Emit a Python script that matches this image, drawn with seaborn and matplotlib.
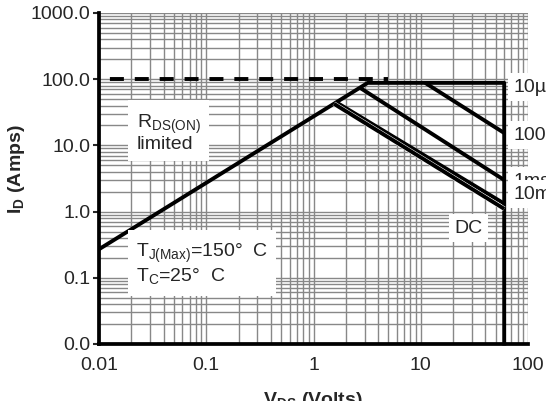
import matplotlib
matplotlib.use("Agg")
import matplotlib.pyplot as plt
import matplotlib.patheffects as pe
from matplotlib.ticker import LogLocator, NullFormatter
import pandas as pd
import seaborn as sns

# safe operating area curves (V_DS in volts, I_D in amps)
envelope_v = [0.01, 3.2, 60, 60]
envelope_i = [0.27, 88, 88, 0.0095]
us100_v = [11, 60]
us100_i = [88, 15.4]
ms1_v = [2.72, 60]
ms1_i = [74, 3.0]
ms10_v = [1.63, 60]
ms10_i = [44.8, 1.32]
dc_v = [1.55, 60]
dc_i = [42.5, 1.1]
limit_v = [0.01, 5.0]
limit_i = [100, 100]

x_ticks = [0.01, 0.1, 1, 10, 100]
x_labels = ["0.01", "0.1", "1", "10", "100"]
y_ticks = [0.01, 0.1, 1, 10, 100, 1000]
y_labels = ["0.0", "0.1", "1.0", "10.0", "100.0", "1000.0"]

curves = {
    "10us": (envelope_v, envelope_i),
    "100us": (us100_v, us100_i),
    "1ms": (ms1_v, ms1_i),
    "10ms": (ms10_v, ms10_i),
    "DC": (dc_v, dc_i),
}

sns.set_style("white")
plt.rcParams["font.family"] = ["Liberation Sans", "DejaVu Sans"]
plt.rcParams["mathtext.fontset"] = "custom"
plt.rcParams["mathtext.rm"] = "Liberation Sans"
plt.rcParams["mathtext.bf"] = "Liberation Sans:bold"
fs = 14
lw = 2.8

fig = plt.figure(figsize=(5.46, 4.01), dpi=100)
ax = fig.add_axes([99 / 546, 1 - 344 / 401, (528 - 99) / 546, (344 - 13) / 401])

for name, (vs, cs) in curves.items():
    d = pd.DataFrame({"v": vs, "i": cs})
    sns.lineplot(data=d, x="v", y="i", estimator=None, sort=False, color="black", ax=ax)
    ln = ax.lines[-1]
    ln.set_linewidth(lw)
    ln.set_clip_on(False)
    ln.set_solid_capstyle("butt")
    if name == "DC":
        # thin white seam between the DC and 10ms lines
        ln.set_path_effects([pe.Stroke(linewidth=lw + 0.7, foreground="white"), pe.Normal()])
ax.plot(limit_v, limit_i, color="black", lw=lw, linestyle=(3.6, (3.6, 2.8)))

ax.set_xscale("log")
ax.set_yscale("log")
ax.set_xlim(0.01, 100)
ax.set_ylim(0.01, 1000)
ax.set_xticks(x_ticks, x_labels, fontsize=fs)
ax.set_yticks(y_ticks, y_labels, fontsize=fs)
ax.xaxis.set_minor_locator(LogLocator(base=10, subs=range(2, 10), numticks=20))
ax.yaxis.set_minor_locator(LogLocator(base=10, subs=range(2, 10), numticks=20))
ax.xaxis.set_minor_formatter(NullFormatter())
ax.yaxis.set_minor_formatter(NullFormatter())
ax.grid(which="both", color="#888888", lw=1.0)
ax.set_axisbelow(True)
ax.tick_params(axis="x", which="both", length=0, pad=9)
ax.tick_params(axis="y", which="major", length=4, width=1.5, pad=2, direction="out", left=True)
ax.tick_params(axis="y", which="minor", length=0)
ax.set_xlabel("")
ax.set_ylabel("")
for s in ["top", "right"]:
    ax.spines[s].set_visible(False)
for s in ["left", "bottom"]:
    ax.spines[s].set_color("black")
    ax.spines[s].set_linewidth(2.7)

box = dict(facecolor="white", edgecolor="none", pad=4)
t = ax.transAxes
ax.text(0.088, 0.70, "R$_{\\mathdefault{DS(ON)}}$\nlimited", transform=t, fontsize=fs,
        ha="left", va="top", linespacing=1.0,
        bbox=dict(facecolor="white", edgecolor="none", pad=6))
ax.text(0.086, 0.31, "T$_{\\mathdefault{J(Max)}}$=150°  C\nT$_{\\mathdefault{C}}$=25°  C", transform=t,
        fontsize=fs, ha="left", va="top", linespacing=1.15,
        bbox=dict(facecolor="white", edgecolor="none", pad=6))
ax.text(0.862, 0.350, "DC", transform=t, fontsize=fs, ha="center", va="center", bbox=box)
labels = [("10µs", 0.776), ("100µs", 0.631), ("1ms", 0.492), ("10ms", 0.453)]
for txt, yy in labels:
    ax.text(0.967, yy, txt, transform=t, fontsize=fs, ha="left", va="center",
            bbox=box, clip_on=False)

fig.text(17 / 546, 1 - 169 / 401, "I$_{\\mathbf{D}}$ (Amps)", rotation=90, fontsize=fs,
         fontweight="bold", ha="center", va="center")
fig.text(313 / 546, 1 - 390 / 401, "V$_{\\mathbf{DS}}$ (Volts)", fontsize=fs,
         fontweight="bold", ha="center", va="top")

fig.savefig("out.png", dpi=100)
